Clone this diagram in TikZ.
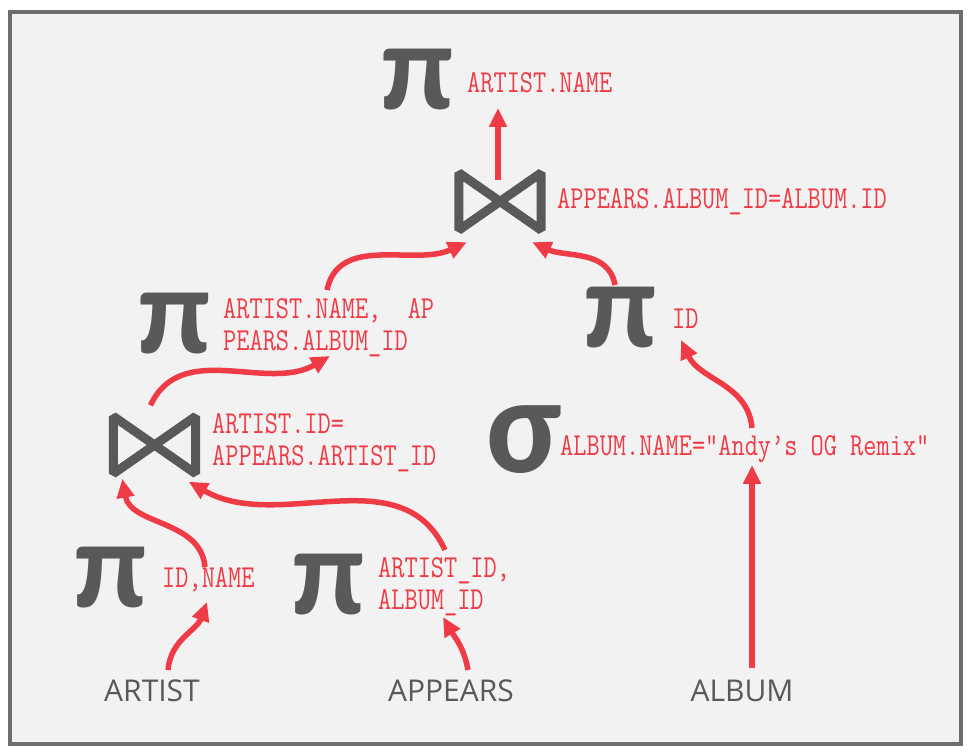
\documentclass[tikz,border=0pt]{standalone}
\usepackage{fontspec}
\setmainfont{Liberation Serif}
\newfontfamily\condfont[FakeStretch=0.80]{Latin Modern Mono}
\newfontfamily\relfont{Open Sans}
\newfontfamily\opfont{Carlito}
\usetikzlibrary{arrows.meta}
\definecolor{arrowred}{RGB}{239,59,69}
\definecolor{symgray}{RGB}{89,89,89}
\definecolor{framegray}{RGB}{110,110,110}
\definecolor{panel}{RGB}{242,242,242}

\begin{document}
\begin{tikzpicture}[
        x=1pt, y=1pt,
        ->,
        >={Triangle[width=17pt,length=19pt]},
        flow/.style={line width=5.5pt, draw=arrowred},
        sym/.style={font=\opfont\bfseries\fontsize{125}{125}\selectfont, text=symgray, inner sep=0pt},
        cond/.style={font=\condfont\fontsize{32}{32}\selectfont, text=arrowred,
            inner sep=0pt, anchor=base west, align=left},
        rel/.style={font=\relfont\fontsize{30}{30}\selectfont, text=symgray, inner sep=0pt, anchor=base},
        joinop/.style={minimum width=82pt, minimum height=57pt, inner sep=0pt},
        bowtie/.style={-, draw=symgray, line width=9pt, line join=bevel}
    ]
        \useasboundingbox (0,0) rectangle (969,754);
        \draw[-, fill=panel, draw=framegray, line width=4pt] (10,10) rectangle (961,742);

        % top projection and final join
        \node[sym] (piTop) at (418,674) {π};
        \node[cond] (lTop) at (467,661) {ARTIST.NAME};
        \node[joinop] (jTop) at (500,552.5) {};
        \draw[bowtie] (jTop.north west) -- (jTop.south east) -- (jTop.north east) -- (jTop.south west) -- cycle;
        \node[cond] (lJTop) at (557,545) {APPEARS.ALBUM\_ID=ALBUM.ID};

        % middle row (two-line labels sit on their last line)
        \node[sym] (piL) at (175,430) {π};
        \node[cond] (lPiL) at (223,403) {ARTIST.NAME,\ \ AP\\PEARS.ALBUM\_ID};
        \node[sym] (piR) at (621,436) {π};
        \node[cond] (lPiR) at (672,425) {ID};
        \node[sym] (sig) at (524,314) {\fontsize{138}{138}\selectfont σ};
        \node[cond] (lSig) at (560,298) {ALBUM.NAME=”Andy’s OG Remix”};
        \node[joinop] (jBot) at (154.5,309) {};
        \draw[bowtie] (jBot.north west) -- (jBot.south east) -- (jBot.north east) -- (jBot.south west) -- cycle;
        \node[cond] (lJBot) at (212,288) {ARTIST.ID=\\APPEARS.ARTIST\_ID};

        % bottom projections and relations
        \node[sym] (piA) at (111,176) {π};
        \node[cond] (lPiA) at (162,166) {ID,NAME};
        \node[sym] (piB) at (329,169) {π};
        \node[cond] (lPiB) at (378,144) {ARTIST\_ID,\\ALBUM\_ID};
        \node[rel] (artist) at (152,52) {ARTIST};
        \node[rel] (appears) at (451,52) {APPEARS};
        \node[rel] (album) at (742,52) {ALBUM};

        % data flow
        \draw[flow] ([xshift=-2pt, yshift=-7pt]jTop.north) -- ([shift={(31,-15)}]lTop.base west);
        \draw[flow] ([shift={(104,61)}]lPiL.base west) to[out=78, in=205] ([shift={(8,-12)}]jTop.south west);
        \draw[flow] ([shift={(-6,33)}]piR.center) to[out=100, in=-25] ([shift={(-9,-12)}]jTop.south east);
        \draw[flow] ([shift={(-4,11)}]jBot.north) to[out=65, in=210] ([shift={(107,-5)}]lPiL.base west);
        \draw[flow] ([shift={(192,28)}]lSig.base west) to[out=95, in=-65] ([shift={(9,-11)}]lPiR.base west);
        \draw[flow] ([shift={(10,34)}]album.base) -- ([shift={(192,-9)}]lSig.base west);
        \draw[flow] ([shift={(43,21)}]lPiA.base west) to[out=95, in=-80] ([shift={(9,-5)}]jBot.south west);
        \draw[flow] ([shift={(67,60)}]lPiB.base west) to[out=115, in=-30] ([shift={(-7,-8)}]jBot.south east);
        \draw[flow] ([shift={(16,32)}]artist.base) to[out=85, in=-110] ([shift={(45,-14)}]lPiA.base west);
        \draw[flow] ([shift={(17,32)}]appears.base) to[out=100, in=-60] ([shift={(65,-7)}]lPiB.base west);
    \end{tikzpicture}
\end{document}
